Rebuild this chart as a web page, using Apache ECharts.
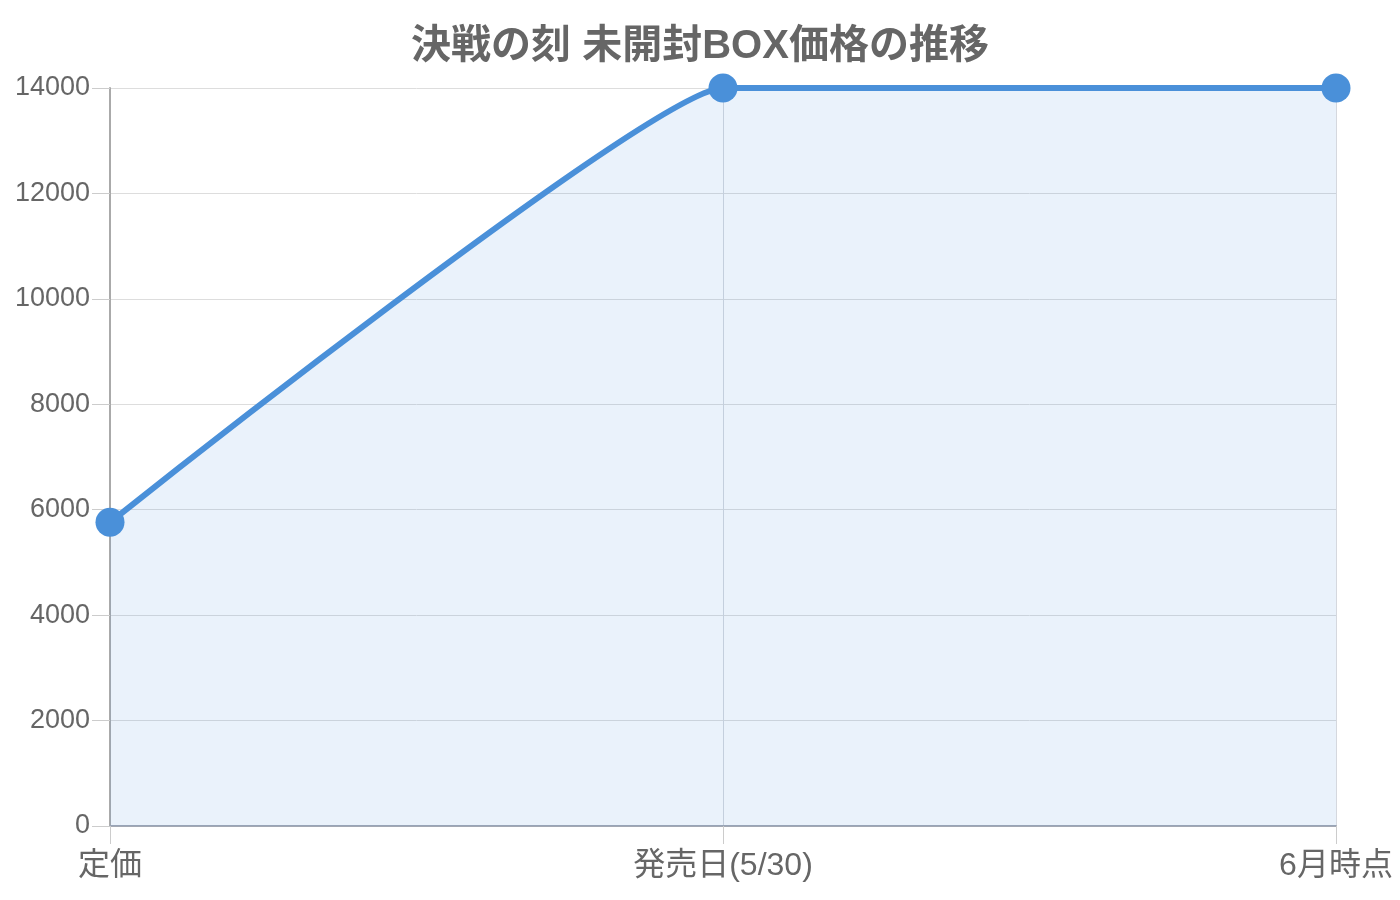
<!DOCTYPE html>
<head>
  <meta charset="utf-8">
  <title>決戦の刻 未開封BOX価格の推移</title>
  <script src="https://cdn.jsdelivr.net/npm/echarts@6/dist/echarts.min.js"></script>
  <style>
    html, body { margin: 0; padding: 0; background: #fff; }
    #main { width: 1400px; height: 900px; }
  </style>
</head>
<body>
  <div id="main"></div>
  <script>
    // data
    var categories = ['定価', '発売日(5/30)', '6月時点'];
    var prices = [5760, 14000, 14000];
    var yTicks = [0, 2000, 4000, 6000, 8000, 10000, 12000, 14000];

    var font = '"Liberation Sans", "Noto Sans CJK JP", sans-serif';
    var myChart = echarts.init(document.getElementById('main'));

    var option = {
      animation: false,
      textStyle: { fontFamily: font },
      title: {
        text: '決戦の刻 未開封BOX価格の推移',
        left: 'center',
        top: 22,
        textStyle: { fontSize: 40, fontWeight: 'bold', color: '#666', fontFamily: font }
      },
      grid: { left: 110, right: 64, top: 88, bottom: 74 },
      xAxis: {
        type: 'category',
        data: categories,
        boundaryGap: false,
        axisLine: { lineStyle: { color: '#a3a8b3', width: 2 } },
        axisTick: { show: true, length: 18, alignWithLabel: true, lineStyle: { color: '#ccc', width: 1 } },
        axisLabel: { fontSize: 32, color: '#666', margin: 24, fontFamily: font },
        splitLine: { show: true, lineStyle: { color: '#d5d8de' } }
      },
      yAxis: {
        type: 'value',
        min: yTicks[0],
        max: yTicks[yTicks.length - 1],
        interval: 2000,
        axisLine: { show: true, lineStyle: { color: '#aaa', width: 2 } },
        axisTick: { show: true, length: 18, lineStyle: { color: '#ccc', width: 1 } },
        axisLabel: {
          fontSize: 27, color: '#666', margin: 20, fontFamily: font,
          formatter: function (v) { return String(v); }
        },
        splitLine: { show: true, lineStyle: { color: '#ddd' } }
      },
      series: [{
        type: 'line',
        data: prices,
        smooth: 0.1,
        symbol: 'circle',
        symbolSize: 29,
        itemStyle: { color: '#4a90d9' },
        lineStyle: { color: '#4a90d9', width: 6 },
        areaStyle: { color: 'rgba(74, 144, 217, 0.16)' }
      }]
    };

    myChart.setOption(option);
  </script>
</body>
